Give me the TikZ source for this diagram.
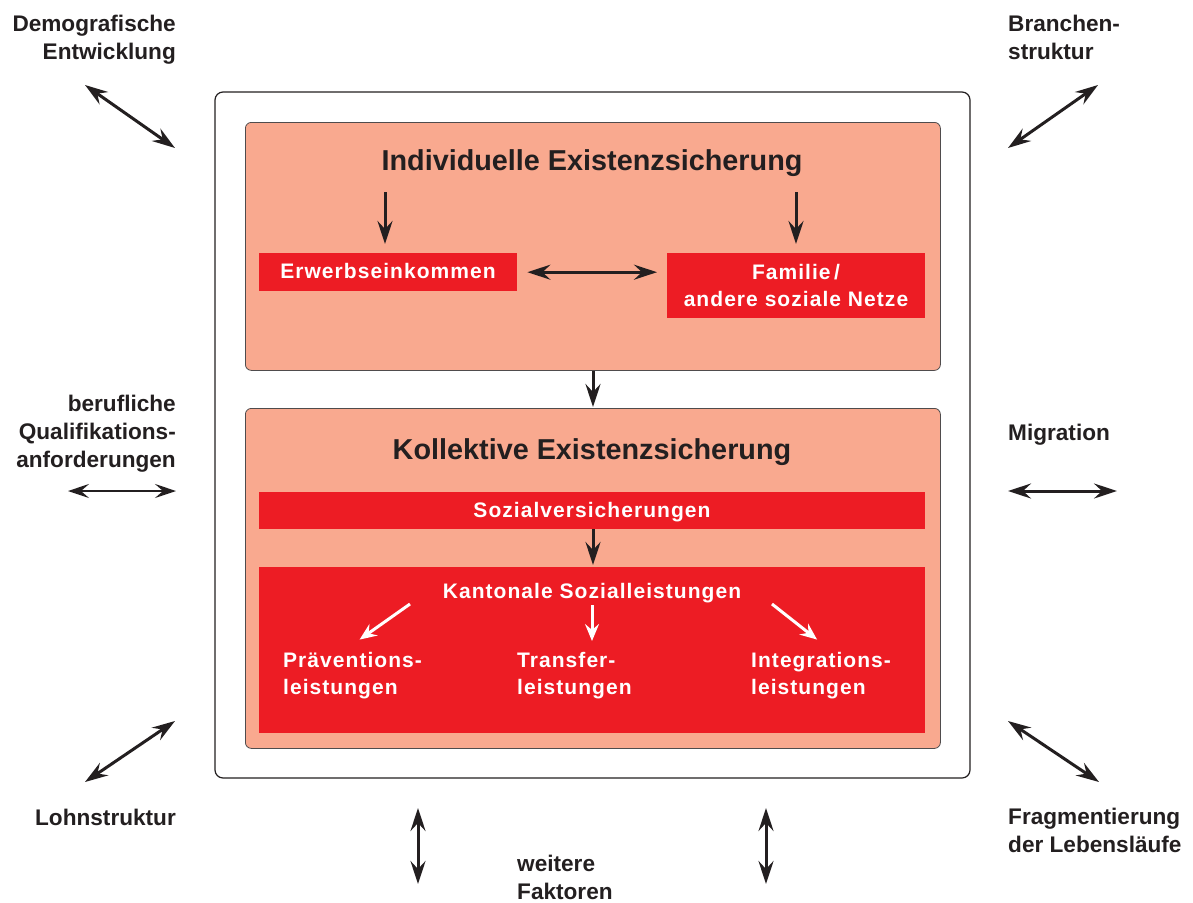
\documentclass[tikz,border=0pt]{standalone}
\usepackage{fontspec}
\setmainfont{Liberation Sans}
\newfontfamily\spacedsans[LetterSpace=5]{Liberation Sans}
\usetikzlibrary{arrows.meta}
\definecolor{salmon}{RGB}{249,169,143}
\definecolor{redbox}{RGB}{237,28,36}
\definecolor{ink}{RGB}{35,31,32}
\begin{document}
\begin{tikzpicture}[x=1pt,y=-1pt,
  lbl/.style={font=\fontsize{22.6}{28}\selectfont\bfseries, text=ink, inner sep=0pt},
  inlbl/.style={font=\spacedsans\fontsize{21}{27}\selectfont\bfseries, text=white, inner sep=0pt},
  ttl/.style={font=\fontsize{28.8}{32}\selectfont\bfseries, text=ink, inner sep=0pt},
  outerbox/.style={draw=ink, line width=1.2pt, rounded corners=8pt, fill=white},
  salbox/.style={draw=ink!80, line width=0.8pt, rounded corners=6pt, fill=salmon},
  redrect/.style={fill=redbox, draw=none},
  bigtip/.tip={Stealth[length=23pt,width=15pt,inset=8pt]},
  smalltip/.tip={Stealth[length=21pt,width=14pt,inset=8pt]},
  wtip/.tip={Stealth[length=17pt,width=14pt,inset=6pt]},
  barrow/.style={draw=ink, line width=3pt, -bigtip},
  dbarrow/.style={draw=ink, line width=3pt, bigtip-bigtip},
  thinarrow/.style={draw=ink, line width=1.6pt, smalltip-smalltip},
  warrow/.style={draw=white, line width=3pt, -wtip},
]
\useasboundingbox (0,0) rectangle (1193,902);

% boxes
\path[outerbox] (215,92) rectangle (970,778);
\node[salbox, anchor=north west, minimum width=695pt, minimum height=248pt] (top) at (245,122) {};
\node[salbox, anchor=north west, minimum width=695pt, minimum height=340pt] (bot) at (245,408) {};

\node[ttl, anchor=base] (ti) at (592,170) {Individuelle Existenzsicherung};
\node[ttl, anchor=base] (tk) at (592,459) {Kollektive Existenzsicherung};

\node[redrect, anchor=north west, minimum width=258pt, minimum height=38pt] (erw) at (259,253) {};
\node[inlbl, anchor=base] (erwt) at (388,278) {Erwerbseinkommen};
\node[redrect, anchor=north west, minimum width=258pt, minimum height=65pt] (fam) at (667,253) {};
\node[inlbl, anchor=base, align=center] (famt) at (796,306) {Familie\,/\\andere soziale Netze};

\node[redrect, anchor=north west, minimum width=666pt, minimum height=37pt] (soz) at (259,492) {};
\node[inlbl, anchor=base] (sozt) at (592,517) {Sozialversicherungen};

\node[redrect, anchor=north west, minimum width=666pt, minimum height=166pt] (kan) at (259,567) {};
\node[inlbl, anchor=base] (kant) at (592,598) {Kantonale Sozialleistungen};
\node[inlbl, anchor=base west, align=left] (p1) at (283,694) {Präventions-\\leistungen};
\node[inlbl, anchor=base west, align=left] (p2) at (517,694) {Transfer-\\leistungen};
\node[inlbl, anchor=base west, align=left] (p3) at (751,694) {Integrations-\\leistungen};

% inner arrows
\coordinate (a1s) at (385,192);
\coordinate (a2s) at (796,192);
\draw[barrow] (a1s) -- ([yshift=9pt]a1s |- erw.north);
\draw[barrow] (a2s) -- ([yshift=9pt]a2s |- fam.north);
\draw[dbarrow] ([xshift=10pt]erw.east) -- ([xshift=-10pt]erw.east -| fam.west);
\draw[barrow] (top.south -| 593,0) -- ([yshift=1pt]bot.north -| 593,0);
\draw[barrow] (soz.south -| 593,0) -- ([yshift=2pt]kan.north -| 593,0);

\draw[warrow] ([xshift=-182pt,yshift=-6pt]kant.base) -- ([xshift=7pt,yshift=12pt]p1.north);
\draw[warrow] ([yshift=-7pt]kant.base) -- ([yshift=-43pt]kant.base);
\draw[warrow] ([xshift=180pt,yshift=-6pt]kant.base) -- ([xshift=-4pt,yshift=12pt]p3.north);

% outside labels
\node[lbl, anchor=base east, align=right] (dem) at (176,59) {Demografische\\Entwicklung};
\node[lbl, anchor=base west, align=left] (bra) at (1008,59) {Branchen-\\struktur};
\node[lbl, anchor=base east, align=right] (ber) at (176,467) {berufliche\\Qualifikations-\\anforderungen};
\node[lbl, anchor=base west, align=left] (mig) at (1008,440) {Migration};
\node[lbl, anchor=base east, align=right] (loh) at (176,825) {Lohnstruktur};
\node[lbl, anchor=base west, align=left] (fra) at (1008,852) {Fragmentierung\\der Lebensläufe};
\node[lbl, anchor=base west, align=left] (wei) at (517,899) {weitere\\Faktoren};

% outside arrows
\coordinate (d1) at (85,85);   \coordinate (d2) at (175,148);
\coordinate (b1) at (1008,148); \coordinate (b2) at (1098,85);
\coordinate (q1) at (68,491);  \coordinate (q2) at (176,491);
\coordinate (m1) at (1008,491); \coordinate (m2) at (1117,491);
\coordinate (l1) at (85,782);  \coordinate (l2) at (175,721);
\coordinate (f1) at (1008,721); \coordinate (f2) at (1099,782);
\coordinate (v1a) at (418,808); \coordinate (v1b) at (418,884);
\coordinate (v2a) at (766,808); \coordinate (v2b) at (766,884);
\draw[dbarrow] (d1) -- (d2);
\draw[dbarrow] (b1) -- (b2);
\draw[thinarrow] (q1) -- (q2);
\draw[dbarrow] (m1) -- (m2);
\draw[dbarrow] (l1) -- (l2);
\draw[dbarrow] (f1) -- (f2);
\draw[dbarrow] (v1a) -- (v1b);
\draw[dbarrow] (v2a) -- (v2b);
\end{tikzpicture}
\end{document}
